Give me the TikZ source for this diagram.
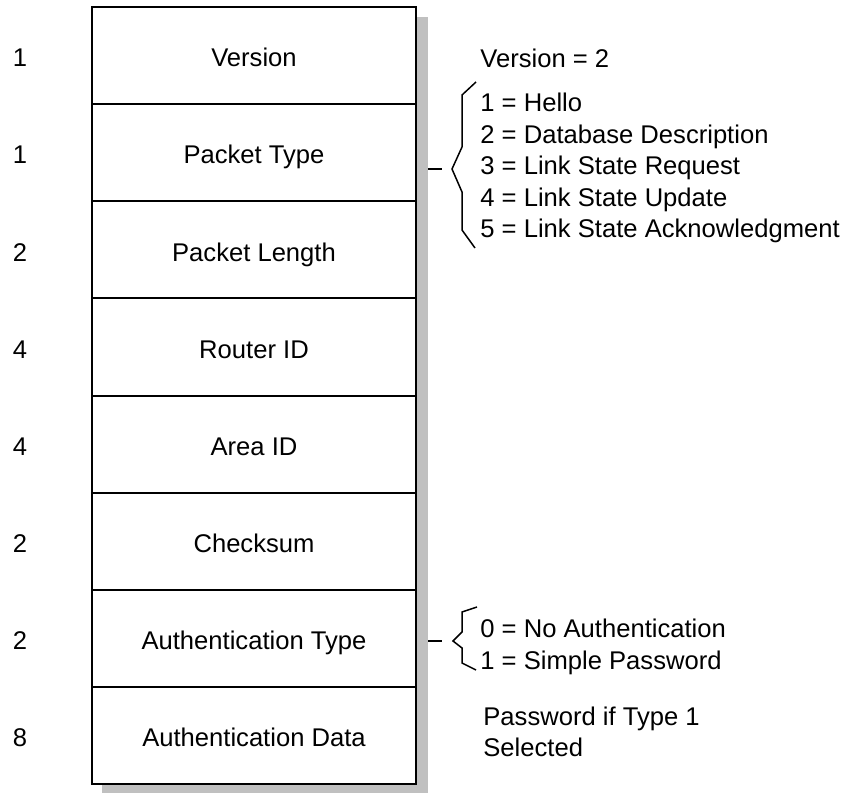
\documentclass[tikz,border=0pt]{standalone}
\usepackage{fontspec}
\setmainfont{Liberation Sans}
\usetikzlibrary{positioning}
\definecolor{shadowgray}{RGB}{192,192,192}
\begin{document}
\begin{tikzpicture}[x=0.5pt, y=-0.5pt,
  every node/.style={font=\fontsize{12.8}{15.75}\selectfont},
  rowtext/.style={text height=12pt, text depth=0.8pt},
  field/.style={rowtext, draw, line width=1pt, fill=white, minimum width=162pt,
    minimum height=48.56pt, inner sep=0pt, outer sep=0pt},
  note/.style={anchor=west, align=left, inner xsep=0pt},
  brace/.style={line width=0.75pt}]
  \useasboundingbox (0,0) rectangle (849,792);
  % shadow behind the header
  \fill[shadowgray] (102,17) rectangle (428,800);
  \node[field] (ver) at (254,55.6) {Version};
  \node[field, below=0pt of ver] (ptype) {Packet Type};
  \node[field, below=0pt of ptype] (plen) {Packet Length};
  \node[field, below=0pt of plen] (rid) {Router ID};
  \node[field, below=0pt of rid] (aid) {Area ID};
  \node[field, below=0pt of aid] (csum) {Checksum};
  \node[field, below=0pt of csum] (atype) {Authentication Type};
  \node[field, below=0pt of atype] (adata) {Authentication Data};
  % sizes in bytes
  \coordinate (numx) at (20,0);
  \node[rowtext] (nver) at (ver -| numx) {1};
  \node[rowtext] (nptype) at (ptype -| numx) {1};
  \node[rowtext] (nplen) at (plen -| numx) {2};
  \node[rowtext] (nrid) at (rid -| numx) {4};
  \node[rowtext] (naid) at (aid -| numx) {4};
  \node[rowtext] (ncsum) at (csum -| numx) {2};
  \node[rowtext] (natype) at (atype -| numx) {2};
  \node[rowtext] (nadata) at (adata -| numx) {8};
  % notes on the right
  \node[note] (vnote) at (480,58) {Version = 2};
  \node[note] (ptnote) at (480,168)
    {1 = Hello\\2 = Database Description\\3 = Link State Request\\4 = Link State Update\\5 = Link State Acknowledgment};
  \node[note] (atnote) at (480,647)
    {0 = No Authentication\\1 = Simple Password};
  \node[note] (adnote) at (483,732)
    {Password if Type 1\\Selected};
  % braces
  \coordinate (ptip) at (452,169);
  \coordinate (atip) at (453,641);
  \draw[brace] ([xshift=-12pt]ptip) -- ([xshift=-5pt]ptip);
  \draw[brace] (476,82) -- (462,95) -- (462,147) -- (ptip) -- (462,192) -- (462,230) -- (475,248);
  \draw[brace] ([xshift=-12.5pt]atip) -- ([xshift=-5.5pt]atip);
  \draw[brace] (477,607) -- (462,612) -- (462,632) -- (atip) -- (462,648) -- (462,663) -- (476,670);
\end{tikzpicture}
\end{document}
